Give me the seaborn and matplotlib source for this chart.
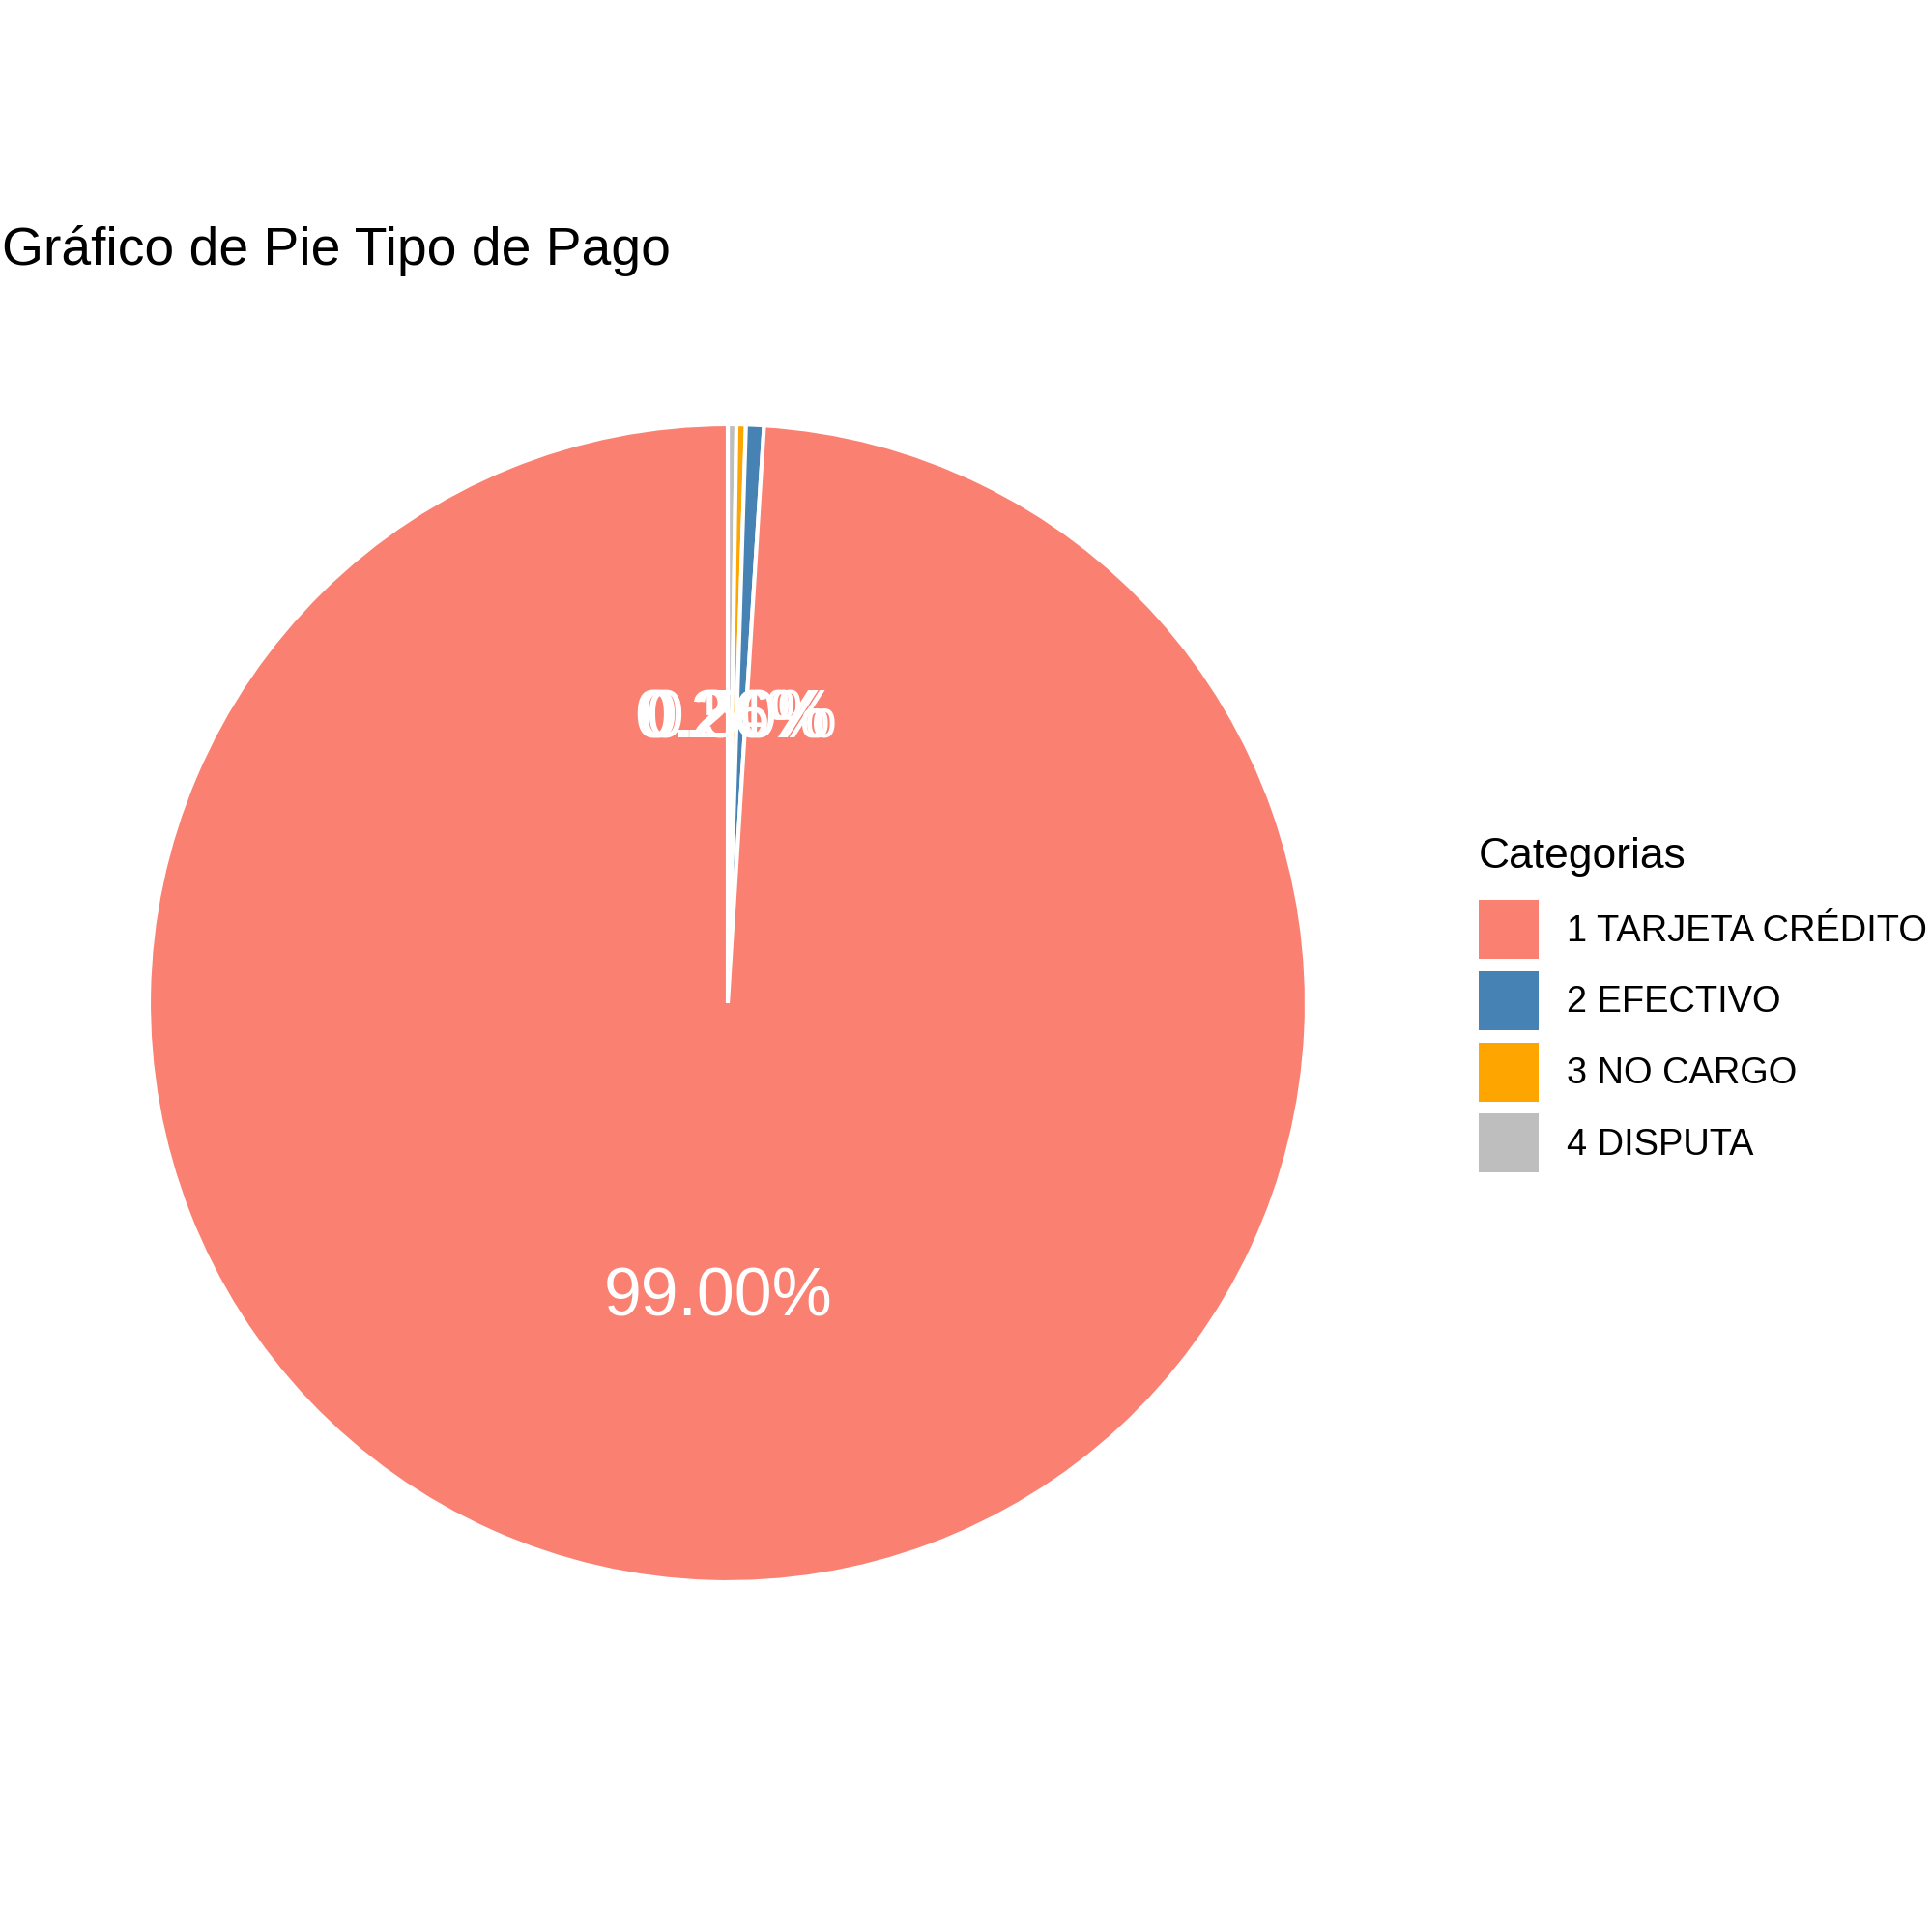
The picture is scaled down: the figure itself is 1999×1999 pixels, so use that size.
import matplotlib
matplotlib.use("Agg")
import matplotlib.pyplot as plt
from matplotlib.patches import Patch
import seaborn as sns

# data
categorias = ["1 TARJETA CRÉDITO", "2 EFECTIVO", "3 NO CARGO", "4 DISPUTA"]
porcentajes = [99.00, 0.50, 0.26, 0.24]
colores = ["#FA8072", "#4682B4", "#FFA500", "#BEBEBE"]

sns.set_theme(style="white")
plt.rcParams["font.family"] = ["Liberation Sans", "DejaVu Sans"]
plt.rcParams["text.color"] = "black"

W = 1999
fig = plt.figure(figsize=(10, 10), dpi=199.9)

# pie drawn clockwise from 12 o'clock, last category first (ggplot stacking)
cx, cy, r = 753, 1038, 599
ax = fig.add_axes([(cx - r) / W, 1 - (cy + r) / W, 2 * r / W, 2 * r / W])
wedges, _, autotexts = ax.pie(
    porcentajes[::-1],
    colors=colores[::-1],
    startangle=90,
    counterclock=False,
    radius=1,
    autopct="%.2f%%",
    pctdistance=0.5,
    wedgeprops=dict(edgecolor="white", linewidth=1.5),
    textprops=dict(color="white", fontsize=25.2),
)
for t in autotexts:
    x, y = t.get_position()
    t.set_position((x, y - 0.011))
ax.set_xlim(-1, 1)
ax.set_ylim(-1, 1)
ax.set_aspect("equal")
ax.axis("off")

fig.text(2 / W, 1 - 274 / W, "Gráfico de Pie Tipo de Pago",
         fontsize=19.9, color="black", ha="left", va="baseline")

handles = [Patch(facecolor=c, edgecolor="none") for c in colores]
leg = fig.legend(
    handles, categorias,
    title="Categorias",
    loc="upper left",
    bbox_to_anchor=(1530 / W, 1 - 866 / W),
    frameon=False,
    fontsize=13.7,
    title_fontsize=16,
    handlelength=1.62,
    handleheight=2.08,
    handletextpad=0.77,
    labelspacing=0.34,
    borderpad=0,
    borderaxespad=0,
    alignment="left",
)
leg._legend_box.sep = 8.8  # extra gap between legend title and keys
for t in leg.get_texts():
    t.set_color("black")
leg.get_title().set_color("black")

fig.savefig("out.png", dpi=199.9, facecolor="white")
